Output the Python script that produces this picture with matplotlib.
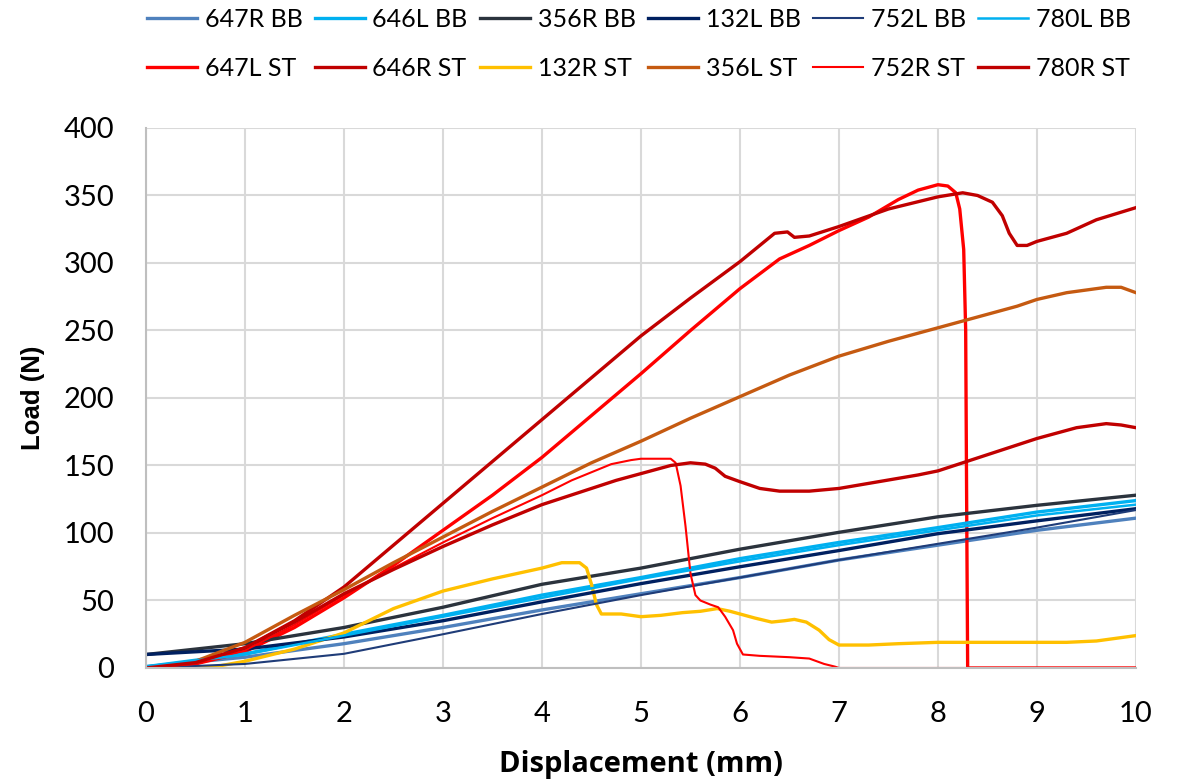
import matplotlib
matplotlib.use("Agg")
import matplotlib.pyplot as plt
from matplotlib import font_manager

names = {f.name for f in font_manager.fontManager.ttflist}
TF = "Lato" if "Lato" in names else "DejaVu Sans"
XF = "Open Sans" if "Open Sans" in names else "DejaVu Sans"
YF = "Liberation Sans" if "Liberation Sans" in names else "DejaVu Sans"
plt.rcParams['font.family'] = [TF, 'DejaVu Sans']

# ---------------- data ----------------
bb_x = [0, 1, 2, 3, 4, 5, 6, 7, 8, 9, 10]
bb_647R = [1, 8, 18, 30, 43, 55, 67, 80, 91, 102, 111]
bb_646L = [1, 10.5, 25, 39, 54, 67, 81, 93, 104, 115.5, 124]
bb_356R = [10, 18, 30, 45, 62, 74, 88, 100.5, 112, 120.5, 128]
bb_132L = [10, 14, 23, 35, 49, 62.5, 75, 87, 99.5, 109, 118]
bb_752L = [0, 3, 10.5, 25, 40, 54, 67, 80, 92, 104, 117]
bb_780L = [1, 10, 24, 38, 52, 66, 79, 91, 102, 113, 121]

st_647L_x = [0, 0.5, 1, 1.5, 2, 2.5, 3, 3.5, 4, 4.5, 5, 5.5, 6, 6.4, 6.7, 7, 7.3, 7.6,
             7.8, 8.0, 8.1, 8.18, 8.22, 8.26, 8.28, 8.29, 8.3, 10]
st_647L_y = [0, 3, 12, 30, 52, 76, 102, 128, 156, 187, 218, 250, 281, 303, 313, 324, 334, 347,
             354, 358, 357, 352, 340, 310, 250, 120, 0, 0]

st_646R_x = [0, 0.5, 1, 1.5, 2, 2.5, 3, 3.5, 4, 4.5, 5, 5.5, 6, 6.2, 6.35, 6.48, 6.55, 6.7,
             7, 7.5, 8, 8.25, 8.4, 8.55, 8.65, 8.72, 8.8, 8.9, 9, 9.3, 9.6, 10]
st_646R_y = [0, 4, 15, 35, 60, 91, 122, 153, 184, 215, 246, 274, 301, 313, 322, 323, 319, 320,
             327, 340, 349, 352, 350, 345, 335, 322, 313, 313, 316, 322, 332, 341]

st_132R_x = [0.45, 0.7, 1, 1.5, 2, 2.5, 3, 3.5, 4, 4.2, 4.38, 4.45, 4.5, 4.55, 4.6, 4.8, 5.0,
             5.2, 5.42, 5.6, 5.77, 5.9, 6.0, 6.15, 6.32, 6.45, 6.55, 6.67, 6.8, 6.9, 7.0,
             7.3, 7.6, 8.0, 8.5, 9.0, 9.3, 9.6, 9.8, 10]
st_132R_y = [0, 1, 5, 14, 26, 44, 57, 66, 74, 78, 78, 74, 62, 47, 40, 40, 38,
             39, 41, 42, 44, 42, 40, 37, 34, 35, 36, 34, 28, 21, 17,
             17, 18, 19, 19, 19, 19, 20, 22, 24]

st_356L_x = [0, 0.5, 1, 1.5, 2, 2.5, 3, 3.5, 4, 4.5, 5, 5.5, 6, 6.5, 7, 7.5, 8, 8.5, 8.8,
             9, 9.3, 9.7, 9.85, 10]
st_356L_y = [0, 5, 19, 39, 58, 78, 97, 116, 134, 152, 168, 185, 201, 217, 231, 242, 252, 262, 268,
             273, 278, 282, 282, 278]

st_752R_x = [0, 0.5, 1, 1.5, 2, 2.5, 3, 3.5, 4, 4.3, 4.5, 4.7, 4.9, 5.0, 5.3, 5.35, 5.4, 5.45,
             5.5, 5.55, 5.6, 5.7, 5.78, 5.85, 5.93, 5.97, 6.03, 6.2, 6.5, 6.7, 6.85, 6.96,
             7.0, 9.55, 10]
st_752R_y = [0, 3, 13, 32, 54, 74, 93, 111, 128, 139, 145, 151, 154, 155, 155, 152, 135, 105,
             70, 54, 50, 47, 45, 38, 28, 18, 10, 9, 8, 7, 3, 1,
             0, 0, 0]

st_780R_x = [0, 0.5, 1, 1.5, 2, 2.5, 3, 3.5, 4, 4.5, 4.75, 5, 5.3, 5.5, 5.65, 5.75, 5.85, 6,
             6.2, 6.4, 6.7, 7, 7.4, 7.8, 8, 8.25, 8.5, 9, 9.4, 9.7, 9.85, 10]
st_780R_y = [0, 4, 15, 34, 55, 73, 90, 106, 121, 133, 139, 144, 150, 152, 151, 148, 142, 138,
             133, 131, 131, 133, 138, 143, 146, 152, 158, 170, 178, 181, 180, 178]

# ---------------- figure ----------------
fig = plt.figure(figsize=(11.86, 7.79), dpi=100)
ax = fig.add_axes([0.1231, 0.1425, 0.9578 - 0.1231, 0.8357 - 0.1425])

series = [
    ("647R BB", bb_x, bb_647R, "#4F81BD", 2.4),
    ("647L ST", st_647L_x, st_647L_y, "#FF0000", 2.4),
    ("646L BB", bb_x, bb_646L, "#00B0F0", 2.4),
    ("646R ST", st_646R_x, st_646R_y, "#C00000", 2.4),
    ("356R BB", bb_x, bb_356R, "#2B333D", 2.4),
    ("132R ST", st_132R_x, st_132R_y, "#FFC000", 2.4),
    ("132L BB", bb_x, bb_132L, "#002060", 2.4),
    ("356L ST", st_356L_x, st_356L_y, "#C55A11", 2.4),
    ("752L BB", bb_x, bb_752L, "#1F3C78", 1.5),
    ("752R ST", st_752R_x, st_752R_y, "#FF0000", 1.5),
    ("780L BB", bb_x, bb_780L, "#00B0F0", 1.8),
    ("780R ST", st_780R_x, st_780R_y, "#C00000", 2.4),
]
handles = []
for name, xs, ys, c, lw in series:
    h, = ax.plot(xs, ys, color=c, lw=lw, label=name, solid_joinstyle='round')
    handles.append(h)

ax.set_xlim(0, 10)
ax.set_ylim(0, 400)
ax.set_xticks(range(0, 11))
ax.set_yticks(range(0, 401, 50))
ax.grid(True, color="#D9D9D9", lw=1.5)
ax.set_axisbelow(True)
for s in ["top", "right"]:
    ax.spines[s].set_visible(False)
for s in ["left", "bottom"]:
    ax.spines[s].set_color("#BFBFBF")
    ax.spines[s].set_linewidth(1.5)
ax.tick_params(axis="both", length=0, labelsize=21, colors="black")
ax.tick_params(axis="y", pad=23)
ax.tick_params(axis="x", pad=24)
ax.set_xlabel("Displacement (mm)", fontsize=21, fontweight="bold", family=XF)
ax.set_ylabel("Load (N)", fontsize=18.5, fontweight="bold", family=YF)
ax.xaxis.set_label_coords(0.5, -0.152)
ax.yaxis.set_label_coords(-0.102, 0.5)

fig.legend(handles=handles, loc="upper left", bbox_to_anchor=(0.124, 0.990), ncol=6,
           frameon=False, fontsize=18, handlelength=2.0, handletextpad=0.3,
           columnspacing=0.5, labelspacing=1.05, borderpad=0, borderaxespad=0)

fig.savefig("out.png", dpi=100)
